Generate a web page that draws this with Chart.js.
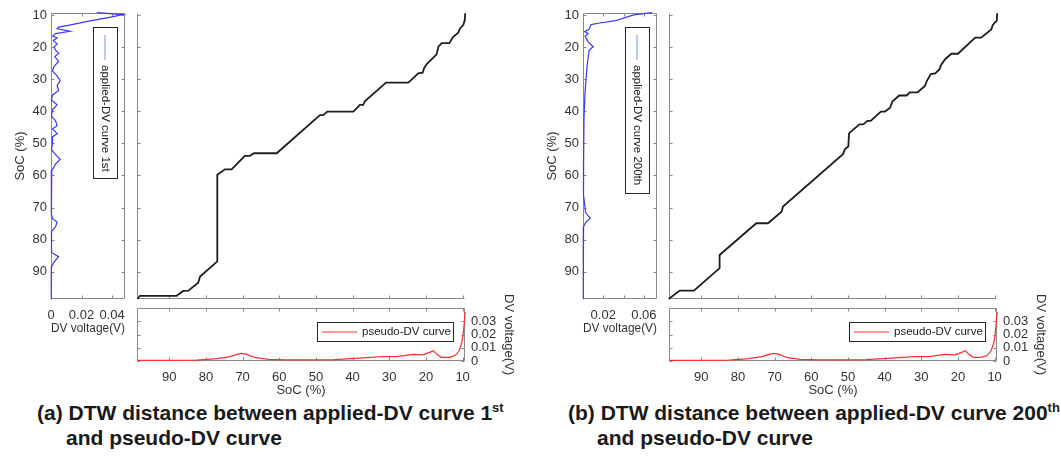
<!DOCTYPE html>
<html lang="en">
<head>
<meta charset="UTF-8">
<title>DTW distance between applied-DV curves and pseudo-DV curve</title>
<script src="https://cdn.jsdelivr.net/npm/chart.js"></script>
<style>
  body { margin: 0; background: white; }
  #page { position: relative; width: 1061px; height: 456px; overflow: hidden; font-family: "Liberation Sans", Arial, sans-serif; }
  canvas { position: absolute; }
  .cap { position: absolute; top: 400px; font-weight: bold; font-size: 21px; line-height: 25px; color: #1a1a1a;
         padding-left: 29px; text-indent: -29px; white-space: nowrap; }
  .cap sup { font-size: 13px; line-height: 0; }
</style>
</head>
<body>
<div id="page">
  <canvas id="leftA" width="132" height="345" style="left:0;top:0"></canvas>
  <canvas id="mainA" width="340" height="305" style="left:130px;top:0"></canvas>
  <canvas id="bottomA" width="395" height="115" style="left:130px;top:285px"></canvas>
  <canvas id="leftB" width="132" height="345" style="left:532px;top:0"></canvas>
  <canvas id="mainB" width="340" height="305" style="left:662px;top:0"></canvas>
  <canvas id="bottomB" width="395" height="115" style="left:662px;top:285px"></canvas>
  <div class="cap" style="left:37px">(a) DTW distance between applied-DV curve 1<sup>st</sup><br>and pseudo-DV curve</div>
  <div class="cap" style="left:568px">(b) DTW distance between applied-DV curve 200<sup>th</sup><br>and pseudo-DV curve</div>
</div>

<script>
    // tick positions
    const socTicks = [10, 20, 30, 40, 50, 60, 70, 80, 90];
    const dvTicksA = [0, 0.02, 0.04];
    const dvLabelsA = ['0', '0.02', '0.04'];
    const dvTicksB = [0.02, 0.04, 0.06];
    const dvLabelsB = ['0.02', '', '0.06'];
    const pseudoTicks = [0, 0.01, 0.02, 0.03];

    // applied-DV curve 1st (SoC on the vertical axis)
    const appliedSocA = [9.3, 9.9, 10.6, 12.0, 13.2, 13.8, 14.3, 15.1, 15.8, 16.5, 17.2, 18.0, 19.0, 20.0,
        21.0, 22.0, 23.0, 24.5, 26.0, 27.5, 29.0, 30.5, 32.0, 33.5, 35.0, 36.5, 38.0, 39.5, 41.5, 43.0,
        44.5, 45.5, 47.0, 48.0, 50.0, 52.0, 53.5, 55.0, 56.5, 58.5, 62.0, 67.0, 72.0, 73.5, 74.5, 76.0,
        77.5, 81.0, 84.0, 85.3, 87.0, 88.5, 93.0, 98.6];
    const appliedDvA = [0.030, 0.047, 0.040, 0.024, 0.012, 0.005, 0.004, 0.0125, 0.003, 0.001, 0.004, 0.0015, 0.004, 0.002,
        0.003, 0.005, 0.0025, 0.005, 0.002, 0.001, 0.004, 0.006, 0.004, 0.005, 0.001, 0.0003, 0.004, 0.001, 0.0003, 0.003,
        0.004, 0.001, 0.004, 0.001, 0.001, 0.0003, 0.003, 0.006, 0.003, 0.0005, 0.0002, 0.0003, 0.0002, 0.001, 0.004, 0.003,
        0.0003, 0.0002, 0.0005, 0.005, 0.002, 0.0003, 0.0002, 0.0002];

    // applied-DV curve 200th
    const appliedSocB = [9.3, 10.0, 11.0, 11.8, 12.6, 13.0, 14.5, 15.2, 15.8, 16.6, 18.3, 19.9, 21.0, 26.0,
        34.0, 42.0, 55.0, 66.0, 71.5, 73.3, 74.8, 76.0, 85.0, 98.6];
    const appliedDvB = [0.068, 0.050, 0.040, 0.032, 0.015, 0.008, 0.006, 0.0015, 0.005, 0.002, 0.005, 0.010, 0.006, 0.004,
        0.002, 0.001, 0.0006, 0.0005, 0.0025, 0.007, 0.0025, 0.0005, 0.0003, 0.0003];

    // pseudo-DV curve (same in both panels)
    const pseudoSoc = [98.8, 90, 82.5, 77, 73.5, 71.5, 70.3, 69, 66.5, 63, 58, 50, 45, 40.5, 35, 31.5, 28, 25.5,
        23.5, 20.8, 19, 18, 17, 15.8, 13.5, 12, 11, 10.3, 9.9, 9.6, 9.3];
    const pseudoDv = [0.0005, 0.0005, 0.0007, 0.0018, 0.0033, 0.005, 0.0058, 0.0052, 0.0025, 0.0013, 0.0009, 0.0008,
        0.0011, 0.0018, 0.0028, 0.0034, 0.0033, 0.0042, 0.005, 0.0046, 0.0065, 0.0077, 0.005, 0.0028, 0.0028, 0.0043,
        0.0075, 0.013, 0.019, 0.027, 0.037];

    // warping paths: pseudo-DV SoC (horizontal) vs applied-DV SoC (vertical)
    const pathPseudoA = [98.7, 98.0, 88.0, 86.2, 84.8, 82.1, 81.6, 76.9, 76.9, 74.8, 73.0, 69.4, 68.0, 66.9, 60.7,
        48.9, 48.0, 46.9, 39.8, 38.0, 37.1, 36.6, 30.9, 24.8, 22.1, 20.9, 20.5, 19.8, 17.1, 16.6, 15.7, 13.6,
        12.7, 11.2, 10.7, 9.8, 9.4, 9.3];
    const pathAppliedA = [98.5, 97.5, 97.5, 96.0, 95.9, 93.4, 91.5, 86.8, 59.8, 58.1, 58.1, 53.9, 53.9, 53.1, 53.1,
        41.2, 41.2, 40.1, 40.1, 38.0, 38.0, 36.8, 31.1, 31.1, 28.2, 28.0, 26.6, 25.3, 22.3, 19.9, 18.8, 18.8,
        17.0, 15.5, 14.2, 13.1, 11.6, 9.5];
    const pathPseudoB = [98.9, 95.9, 92.0, 85.0, 85.0, 75.0, 71.8, 68.1, 67.7, 51.3, 50.8, 49.9, 49.7, 46.9, 45.8,
        44.7, 43.8, 41.0, 39.9, 38.5, 37.9, 36.0, 34.0, 33.1, 31.0, 29.0, 28.5, 27.4, 26.2, 25.0, 24.6, 23.5,
        21.8, 20.0, 15.3, 13.7, 10.9, 10.5, 9.4, 9.3];
    const pathAppliedB = [98.5, 95.9, 95.9, 88.9, 84.8, 74.9, 74.9, 71.3, 69.7, 53.3, 51.8, 51.0, 46.9, 44.1, 44.1,
        43.0, 43.0, 40.1, 40.1, 38.9, 37.0, 35.1, 35.1, 34.1, 34.1, 32.1, 30.6, 28.4, 28.2, 26.9, 25.6, 23.8,
        22.1, 22.1, 17.1, 17.1, 14.5, 13.1, 11.8, 9.5];

    const BLUE = 'rgb(55,55,255)';
    const RED = 'rgb(255,45,45)';
    const PATH = '#1e1e1e';
    const AXIS = '#8a8a8a';

    Chart.defaults.font.family = '"Liberation Sans", Arial, sans-serif';
    Chart.defaults.font.size = 13;
    Chart.defaults.color = '#333';

    function pts(xs, ys) {
        return xs.map((x, i) => ({ x: x, y: ys[i] }));
    }
    function fixTicks(list) {
        return s => { s.ticks = list.map(v => ({ value: v })); };
    }
    // fixed axis thickness, and no extra room asked for the end labels
    function fixWidth(w) {
        return s => { s.width = w; s.paddingTop = 0; s.paddingBottom = 0; };
    }
    function fixHeight(h) {
        return s => { s.height = h; s.paddingLeft = 0; s.paddingRight = 0; };
    }

    // box and inward tick marks, matlab style
    const framePlugin = {
        id: 'frame',
        beforeDatasetsDraw(chart, args, o) {
            const { ctx, chartArea: a, scales } = chart;
            const L = 3;
            const l = Math.round(a.left) + 0.5, r = Math.round(a.right) - 0.5;
            const t = Math.round(a.top) + 0.5, b = Math.round(a.bottom) - 0.5;
            ctx.save();
            ctx.strokeStyle = AXIS;
            ctx.lineWidth = 1;
            ctx.beginPath();
            if (o.sides.includes('l')) { ctx.moveTo(l, t); ctx.lineTo(l, b); }
            if (o.sides.includes('r')) { ctx.moveTo(r, t); ctx.lineTo(r, b); }
            if (o.sides.includes('t')) { ctx.moveTo(l, t); ctx.lineTo(r, t); }
            if (o.sides.includes('b')) { ctx.moveTo(l, b); ctx.lineTo(r, b); }
            o.x.forEach(v => {
                const px = Math.round(scales.x.getPixelForValue(v)) + 0.5;
                if (o.xSides.includes('b')) { ctx.moveTo(px, b); ctx.lineTo(px, b - L); }
                if (o.xSides.includes('t')) { ctx.moveTo(px, t); ctx.lineTo(px, t + L); }
            });
            o.y.forEach(v => {
                const py = Math.round(scales.y.getPixelForValue(v)) + 0.5;
                if (o.ySides.includes('l')) { ctx.moveTo(l, py); ctx.lineTo(l + L, py); }
                if (o.ySides.includes('r')) { ctx.moveTo(r, py); ctx.lineTo(r - L, py); }
            });
            ctx.stroke();
            ctx.restore();
        }
    };

    // legend box, drawn inside the plot (vertical for the side plots)
    const legendPlugin = {
        id: 'boxLegend',
        afterDraw(chart, args, o) {
            const { ctx, chartArea: a } = chart;
            const x0 = Math.round(a.left + o.box[0]), y0 = Math.round(a.top + o.box[1]);
            const w = o.box[2], h = o.box[3];
            ctx.save();
            ctx.fillStyle = '#fff';
            ctx.fillRect(x0, y0, w, h);
            ctx.strokeStyle = '#262626';
            ctx.lineWidth = 1;
            ctx.strokeRect(x0 + 0.5, y0 + 0.5, w, h);
            ctx.strokeStyle = o.color;
            ctx.font = '11.5px "Liberation Sans", Arial, sans-serif';
            ctx.fillStyle = '#1a1a1a';
            ctx.textBaseline = 'middle';
            ctx.beginPath();
            if (o.vertical) {
                const cx = x0 + w / 2;
                ctx.moveTo(cx, y0 + 8);
                ctx.lineTo(cx, y0 + 33);
                ctx.stroke();
                ctx.translate(cx, y0 + 38);
                ctx.rotate(Math.PI / 2);
                ctx.fillText(o.text, 0, 0);
            } else {
                const cy = y0 + h / 2 + 0.5;
                ctx.moveTo(x0 + 5, cy);
                ctx.lineTo(x0 + 40, cy);
                ctx.stroke();
                ctx.fillText(o.text, x0 + 45, cy);
            }
            ctx.restore();
        }
    };

    const noGrid = { display: false, drawTicks: false };

    function leftChart(id, soc, dv, dvMax, dvTicks, dvLabels, legendText, legendH) {
        new Chart(document.getElementById(id), {
            type: 'scatter',
            data: {
                datasets: [{ data: pts(dv, soc), showLine: true, borderColor: BLUE, borderWidth: 1.2,
                    pointRadius: 0, clip: 3 }]
            },
            options: {
                responsive: false,
                animation: false,
                layout: { padding: { top: 13, right: 7 } },
                plugins: {
                    legend: { display: false },
                    tooltip: { enabled: false },
                    frame: { sides: 'lrtb', x: dvTicks, xSides: 'bt', y: socTicks, ySides: 'lr' },
                    boxLegend: { vertical: true, box: [42, 14, 24, legendH], text: legendText, color: 'rgb(120,140,255)' }
                },
                scales: {
                    x: {
                        type: 'linear', min: 0, max: dvMax,
                        afterBuildTicks: fixTicks(dvTicks),
                        afterFit: fixHeight(46),
                        grid: noGrid, border: { display: false },
                        ticks: { padding: 9, autoSkip: false, maxRotation: 0, callback: (v, i) => dvLabels[i] },
                        title: { display: true, text: 'DV voltage(V)', padding: { top: 0, bottom: 9 } }
                    },
                    y: {
                        type: 'linear', reverse: true, min: 9.4, max: 98.5,
                        afterBuildTicks: fixTicks(socTicks),
                        afterFit: fixWidth(51),
                        grid: noGrid, border: { display: false },
                        ticks: { padding: 4, autoSkip: false },
                        title: { display: true, text: 'SoC (%)', padding: { top: 13, bottom: 0 } }
                    }
                }
            },
            plugins: [framePlugin, legendPlugin]
        });
    }

    function mainChart(id, pseudo, applied) {
        new Chart(document.getElementById(id), {
            type: 'scatter',
            data: {
                datasets: [{ data: pts(pseudo, applied), showLine: true, borderColor: PATH, borderWidth: 1.8,
                    pointRadius: 0, clip: 3 }]
            },
            options: {
                responsive: false,
                animation: false,
                layout: { padding: { left: 7, top: 13, right: 5, bottom: 6 } },
                plugins: {
                    legend: { display: false },
                    tooltip: { enabled: false },
                    frame: { sides: 'lb', x: socTicks, xSides: 'b', y: socTicks, ySides: 'l' }
                },
                scales: {
                    x: { type: 'linear', display: false, reverse: true, min: 9.35, max: 98.8 },
                    y: { type: 'linear', display: false, reverse: true, min: 9.4, max: 98.5 }
                }
            },
            plugins: [framePlugin]
        });
    }

    function bottomChart(id) {
        new Chart(document.getElementById(id), {
            type: 'scatter',
            data: {
                datasets: [{ data: pts(pseudoSoc, pseudoDv), showLine: true, borderColor: RED, borderWidth: 1.2,
                    pointRadius: 0, clip: 3 }]
            },
            options: {
                responsive: false,
                animation: false,
                layout: { padding: { left: 7, top: 23 } },
                plugins: {
                    legend: { display: false },
                    tooltip: { enabled: false },
                    frame: { sides: 'lrtb', x: socTicks, xSides: 'bt', y: pseudoTicks, ySides: 'lr' },
                    boxLegend: { vertical: false, box: [180, 14, 136, 19], text: 'pseudo-DV curve', color: RED }
                },
                scales: {
                    x: {
                        type: 'linear', reverse: true, min: 9.35, max: 98.8,
                        afterBuildTicks: fixTicks(socTicks),
                        afterFit: fixHeight(39),
                        grid: noGrid, border: { display: false },
                        ticks: { padding: 9, autoSkip: false, maxRotation: 0 },
                        title: { display: true, text: 'SoC (%)', padding: { top: 0, bottom: 2 } }
                    },
                    y: {
                        type: 'linear', position: 'right', min: 0, max: 0.04,
                        afterBuildTicks: fixTicks(pseudoTicks),
                        afterFit: fixWidth(60),
                        grid: noGrid, border: { display: false },
                        ticks: { padding: 6, autoSkip: false, callback: v => String(v) },
                        title: { display: true, text: 'DV voltage(V)', padding: { top: 9, bottom: 0 } }
                    }
                }
            },
            plugins: [framePlugin, legendPlugin]
        });
    }

    leftChart('leftA', appliedSocA, appliedDvA, 0.0485, dvTicksA, dvLabelsA, 'applied-DV curve 1st', 151);
    mainChart('mainA', pathPseudoA, pathAppliedA);
    bottomChart('bottomA');
    leftChart('leftB', appliedSocB, appliedDvB, 0.073, dvTicksB, dvLabelsB, 'applied-DV curve 200th', 166);
    mainChart('mainB', pathPseudoB, pathAppliedB);
    bottomChart('bottomB');
</script>
</body>
</html>
